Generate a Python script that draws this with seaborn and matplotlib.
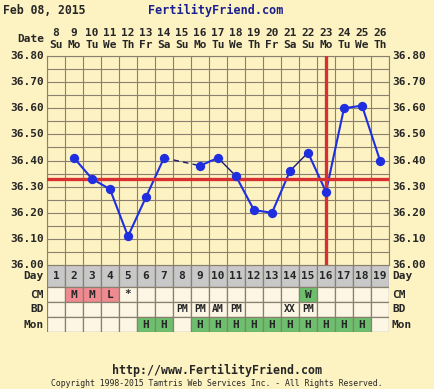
import matplotlib
matplotlib.use('Agg')
import matplotlib.pyplot as plt
from matplotlib.patches import Rectangle
import numpy as np
import pandas as pd
import seaborn as sns

sns.set_style("white")
plt.rcParams['font.family'] = ['DejaVu Sans Mono']

# 数据
days = list(range(1, 20))
dates = [8, 9, 10, 11, 12, 13, 14, 15, 16, 17, 18, 19, 20, 21, 22, 23, 24, 25, 26]
weekdays = ['Su', 'Mo', 'Tu', 'We', 'Th', 'Fr', 'Sa', 'Su', 'Mo', 'Tu',
            'We', 'Th', 'Fr', 'Sa', 'Su', 'Mo', 'Tu', 'We', 'Th']
temps = [np.nan, 36.41, 36.33, 36.29, 36.11, 36.26, 36.41, np.nan, 36.38, 36.41,
         36.34, 36.21, 36.20, 36.36, 36.43, 36.28, 36.60, 36.61, 36.40]
coverline = 36.33
ovulation_day = 16
y_ticks = [36.00, 36.10, 36.20, 36.30, 36.40, 36.50, 36.60, 36.70, 36.80]
cm_row = {2: 'M', 3: 'M', 4: 'L', 5: '*', 15: 'W'}
bd_row = {8: 'PM', 9: 'PM', 10: 'AM', 11: 'PM', 14: 'XX', 15: 'PM'}
mon_row = {6: 'H', 7: 'H', 9: 'H', 10: 'H', 11: 'H', 12: 'H', 13: 'H',
           14: 'H', 15: 'H', 16: 'H', 17: 'H', 18: 'H'}

BG = '#fdf2c2'
GRID = '#8a8070'
BLUE = '#1f2fe0'
NAVY = '#1a1a70'
RED = '#d83030'

W, H = 434, 389
fig = plt.figure(figsize=(W / 100, H / 100), dpi=100, facecolor=BG)

def fx(px):
    return px / W

def fy(py):
    return 1 - py / H

L, R = 47, 389
T, B = 56, 265
ax = fig.add_axes([fx(L), fy(B), fx(R - L), (B - T) / H])
ax.set_facecolor(BG)
ax.set_xlim(0.5, 19.5)
ax.set_ylim(36.0, 36.8)
for x in np.arange(0.5, 19.6, 1):
    ax.axvline(x, color=GRID, lw=0.8, zorder=1)
for y in np.arange(36.0, 36.81, 0.05):
    ax.axhline(y, color=GRID, lw=0.8, zorder=1)
ax.set_xticks([])
ax.set_yticks([])
for s in ax.spines.values():
    s.set_color(GRID)

# 温度曲线
df = pd.DataFrame({'day': days, 'temp': temps})
thin = {(10, 11), (14, 15)}
for i in range(len(days) - 1):
    a, b = temps[i], temps[i + 1]
    if np.isnan(a) or np.isnan(b):
        continue
    if (days[i], days[i + 1]) in thin:
        ax.plot(days[i:i + 2], [a, b], color=NAVY, lw=1.0, zorder=3)
    else:
        ax.plot(days[i:i + 2], [a, b], color=BLUE, lw=1.5, zorder=3)
# 缺失日的虚线连接
ax.plot([7, 9], [temps[6], temps[8]], color=NAVY, lw=1.0, ls=(0, (4, 3)), zorder=3)

ax.axhline(coverline, color=RED, lw=2.4, zorder=4)
ax.axvline(ovulation_day, color=RED, lw=2.4, zorder=4)

sns.scatterplot(data=df.dropna(), x='day', y='temp', ax=ax, color=BLUE,
                s=45, edgecolor=BLUE, linewidth=0, zorder=5, legend=False)
ax.set_xlabel('')
ax.set_ylabel('')

fs = 8
for t in y_ticks:
    py = B - (t - 36.0) / 0.8 * (B - T)
    fig.text(fx(L - 3), fy(py), f'{t:.2f}', ha='right', va='center',
             fontsize=fs, fontweight='bold')
    fig.text(fx(R + 3), fy(py), f'{t:.2f}', ha='left', va='center',
             fontsize=fs, fontweight='bold')

# 日期与星期
col_w = (R - L) / 19
for i, d in enumerate(days):
    cx = L + (i + 0.5) * col_w
    fig.text(fx(cx), fy(33), str(dates[i]), ha='center', va='center',
             fontsize=fs, fontweight='bold')
    fig.text(fx(cx), fy(45), weekdays[i], ha='center', va='center',
             fontsize=fs, fontweight='bold')
fig.text(fx(L - 3), fy(39), 'Date', ha='right', va='center',
         fontsize=fs, fontweight='bold')

fig.text(fx(3), fy(10), 'Feb 08, 2015', ha='left', va='center',
         fontsize=8.3, fontweight='bold')
fig.text(fx(216), fy(10), 'FertilityFriend.com', ha='center', va='center',
         fontsize=8.5, fontweight='bold', color='#1a2090')

# 下方表格
TB = 332
tax = fig.add_axes([fx(L), fy(TB), fx(R - L), (TB - B) / H])
tax.set_xlim(0.5, 19.5)
tax.set_ylim(TB - B, 0)
tax.axis('off')
rows = [(0, 22), (22, 37), (37, 52), (52, 67)]
row_names = ['Day', 'CM', 'BD', 'Mon']
for i, d in enumerate(days):
    x0 = d - 0.5
    tax.add_patch(Rectangle((x0, 0), 1, 22, facecolor='#c8c8c8',
                            edgecolor=GRID, lw=0.9))
    tax.text(d, 11, str(d), ha='center', va='center', fontsize=fs, fontweight='bold')
    for r, content in zip(rows[1:], [cm_row, bd_row, mon_row]):
        txt = content.get(d, '')
        fc = '#fdf6e4'
        if content is cm_row and txt in ('M', 'L'):
            fc = '#f08a90'
        elif content is cm_row and txt == 'W':
            fc = '#6cbf6c'
        elif content is mon_row and txt:
            fc = '#6cbf6c'
        tax.add_patch(Rectangle((x0, r[0]), 1, r[1] - r[0], facecolor=fc,
                                edgecolor=GRID, lw=0.9))
        if txt:
            tax.text(d, (r[0] + r[1]) / 2, txt, ha='center', va='center',
                     fontsize=7 if len(txt) > 1 else fs, fontweight='bold')
for (r0, r1), name in zip(rows, row_names):
    py = B + (r0 + r1) / 2
    fig.text(fx(L - 3), fy(py), name, ha='right', va='center',
             fontsize=fs, fontweight='bold')
    fig.text(fx(R + 3), fy(py), name, ha='left', va='center',
             fontsize=fs, fontweight='bold')

fig.text(0.5, fy(370), 'http://www.FertilityFriend.com', ha='center', va='center',
         fontsize=8.4, fontweight='bold')
fig.text(0.5, fy(383), 'Copyright 1998-2015 Tamtris Web Services Inc. - All Rights Reserved.',
         ha='center', va='center', fontsize=5.9)

fig.savefig('out.png', dpi=100, facecolor=BG)
